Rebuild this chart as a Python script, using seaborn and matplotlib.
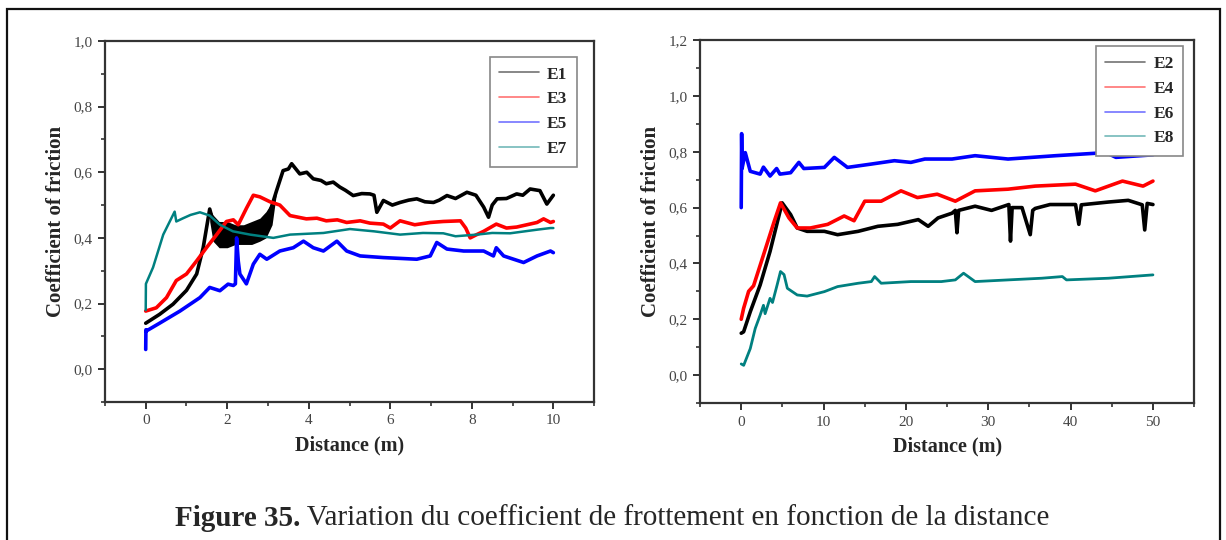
import matplotlib
matplotlib.use("Agg")
import matplotlib.pyplot as plt
from matplotlib.ticker import MultipleLocator, FuncFormatter
from matplotlib.patches import Rectangle
import seaborn as sns
import pandas as pd

# ---------------- data ----------------
# Left panel (0-10 m)
E1_x = [0, 0.34, 0.67, 1.0, 1.25, 1.41, 1.57, 1.65, 1.75, 1.85, 1.95, 2.05, 2.15, 2.25, 2.35,
        2.45, 2.55, 2.65, 2.75, 2.85, 2.95, 3.05, 3.21, 3.37, 3.5, 3.58, 3.78, 3.95, 4.11, 4.3,
        4.43, 4.6, 4.76, 4.9, 5.09, 5.3, 5.5, 5.6, 5.67, 5.83, 6.05, 6.24, 6.45, 6.65, 6.85,
        7.06, 7.2, 7.39, 7.6, 7.88, 8.1, 8.29, 8.41, 8.5, 8.62, 8.85, 9.1, 9.25, 9.43, 9.67,
        9.84, 10.0]
E1_y = [0.14, 0.167, 0.198, 0.24, 0.29, 0.37, 0.488, 0.45, 0.42, 0.41, 0.41, 0.41, 0.41, 0.41,
        0.41, 0.41, 0.41, 0.42, 0.42, 0.43, 0.44, 0.48, 0.544, 0.605, 0.61, 0.626, 0.595, 0.60,
        0.58, 0.575, 0.565, 0.57, 0.555, 0.545, 0.529, 0.535, 0.534, 0.53, 0.478, 0.514, 0.50,
        0.508, 0.515, 0.519, 0.51, 0.508, 0.515, 0.529, 0.52, 0.539, 0.53, 0.494, 0.463, 0.50,
        0.519, 0.52, 0.534, 0.53, 0.549, 0.544, 0.503, 0.53]
E1_band_x = [1.57, 1.65, 1.8, 2.0, 2.2, 2.4, 2.6, 2.8, 2.95, 3.1, 3.2]
E1_band_lo = [0.45, 0.39, 0.37, 0.37, 0.38, 0.38, 0.38, 0.39, 0.40, 0.44, 0.53]
E1_band_hi = [0.49, 0.47, 0.45, 0.45, 0.44, 0.44, 0.45, 0.46, 0.48, 0.51, 0.54]

E3_x = [0, 0.26, 0.51, 0.75, 1.0, 1.25, 1.49, 1.74, 1.98, 2.15, 2.27, 2.47, 2.64, 2.8, 3.05,
        3.29, 3.54, 3.94, 4.2, 4.43, 4.7, 4.93, 5.26, 5.5, 5.83, 6.0, 6.24, 6.6, 6.98, 7.3,
        7.72, 7.85, 7.96, 8.12, 8.29, 8.6, 8.85, 9.1, 9.35, 9.6, 9.76, 9.93, 10.0]
E3_y = [0.177, 0.187, 0.218, 0.27, 0.29, 0.33, 0.37, 0.41, 0.45, 0.455, 0.44, 0.49, 0.53,
        0.525, 0.51, 0.50, 0.468, 0.458, 0.46, 0.452, 0.455, 0.447, 0.452, 0.445, 0.442, 0.43,
        0.452, 0.44, 0.447, 0.45, 0.452, 0.43, 0.40, 0.41, 0.42, 0.442, 0.43, 0.433, 0.44,
        0.447, 0.458, 0.447, 0.45]

E5_x = [0, 0.005, 0.01, 0.34, 0.84, 1.33, 1.57, 1.82, 2.02, 2.15, 2.2, 2.23, 2.27, 2.31, 2.47,
        2.64, 2.8, 2.97, 3.29, 3.62, 3.87, 4.11, 4.36, 4.69, 4.93, 5.26, 5.83, 6.65, 6.98, 7.14,
        7.39, 7.8, 8.29, 8.53, 8.6, 8.78, 9.27, 9.6, 9.93, 10.0]
E5_y = [0.06, 0.12, 0.116, 0.14, 0.177, 0.218, 0.249, 0.239, 0.259, 0.255, 0.26, 0.40, 0.33,
        0.29, 0.26, 0.32, 0.35, 0.335, 0.36, 0.37, 0.39, 0.37, 0.36, 0.39, 0.36, 0.345, 0.34,
        0.335, 0.345, 0.386, 0.366, 0.36, 0.36, 0.345, 0.37, 0.345, 0.325, 0.345, 0.36, 0.355]

E7_x = [0, 0.005, 0.18, 0.43, 0.59, 0.71, 0.75, 0.92, 1.1, 1.33, 1.57, 1.82, 2.14, 2.56, 3.13,
        3.54, 4.36, 5.01, 5.26, 5.6, 6.24, 6.8, 7.3, 7.6, 8.12, 8.5, 8.94, 9.3, 9.6, 9.93, 10.0]
E7_y = [0.18, 0.26, 0.31, 0.41, 0.45, 0.48, 0.45, 0.46, 0.47, 0.478, 0.468, 0.44, 0.42, 0.41,
        0.40, 0.41, 0.415, 0.427, 0.424, 0.42, 0.41, 0.415, 0.414, 0.405, 0.41, 0.415, 0.414,
        0.42, 0.425, 0.43, 0.43]

# Right panel (0-50 m)
E2_x = [0, 0.29, 1.1, 2.3, 3.5, 4.97, 6.0, 6.8, 8.0, 10.1, 11.7, 14.2, 16.6, 19.0, 21.5, 22.7,
        23.9, 25.6, 26.0, 26.2, 26.4, 28.4, 30.4, 32.5, 32.7, 32.9, 34.1, 35.1, 35.4, 35.7,
        37.5, 40.6, 41.0, 41.3, 44.6, 47.0, 48.7, 49.0, 49.3, 50.0]
E2_y = [0.15, 0.155, 0.227, 0.323, 0.443, 0.617, 0.575, 0.527, 0.515, 0.515, 0.503, 0.515,
        0.533, 0.54, 0.557, 0.533, 0.563, 0.58, 0.59, 0.51, 0.59, 0.605, 0.59, 0.611, 0.48,
        0.60, 0.60, 0.503, 0.59, 0.597, 0.611, 0.611, 0.54, 0.61, 0.62, 0.626, 0.61, 0.52,
        0.615, 0.611]

E4_x = [0, 0.29, 0.9, 1.5, 2.7, 4.0, 4.77, 5.8, 6.8, 8.4, 10.5, 12.5, 13.7, 15.0, 17.0, 19.4,
        21.4, 23.8, 26.0, 28.4, 32.4, 35.7, 40.6, 43.0, 46.3, 48.8, 50.0]
E4_y = [0.20, 0.239, 0.30, 0.32, 0.43, 0.55, 0.617, 0.563, 0.527, 0.527, 0.54, 0.57, 0.553,
        0.623, 0.623, 0.66, 0.636, 0.648, 0.623, 0.66, 0.666, 0.677, 0.684, 0.66, 0.695,
        0.677, 0.695]

E6_x = [0, 0.05, 0.1, 0.49, 1.1, 2.3, 2.7, 3.5, 4.3, 4.7, 6.0, 7.0, 7.6, 10.1, 11.3, 12.9,
        15.8, 18.6, 20.6, 22.3, 25.6, 28.4, 32.4, 38.2, 44.3, 45.5, 50.0]
E6_y = [0.60, 0.865, 0.74, 0.797, 0.73, 0.72, 0.745, 0.713, 0.74, 0.72, 0.725, 0.762, 0.74,
        0.744, 0.78, 0.744, 0.756, 0.768, 0.762, 0.774, 0.774, 0.786, 0.774, 0.786, 0.797,
        0.78, 0.789]

E8_x = [0, 0.3, 1.1, 1.7, 2.3, 2.7, 2.9, 3.5, 3.8, 4.36, 4.77, 5.2, 5.6, 6.8, 8.0, 10.1, 11.7,
        14.2, 15.8, 16.2, 17.0, 20.6, 24.3, 26.0, 27.0, 28.4, 32.4, 36.5, 39.0, 39.5, 44.6, 50.0]
E8_y = [0.04, 0.035, 0.095, 0.167, 0.215, 0.25, 0.22, 0.275, 0.26, 0.323, 0.371, 0.36, 0.311,
        0.287, 0.283, 0.299, 0.317, 0.329, 0.335, 0.353, 0.329, 0.335, 0.335, 0.341, 0.365,
        0.335, 0.341, 0.347, 0.353, 0.341, 0.347, 0.359]

caption_bold = "Figure 35."
caption_text = " Variation du coefficient de frottement en fonction de la distance"
x_label = "Distance (m)"
y_label = "Coefficient of friction"

# ---------------- styling ----------------
sns.set_theme(style="ticks")
plt.rcParams['font.family'] = ['Liberation Serif', 'DejaVu Serif']

BLACK, RED, BLUE, TEAL = "#000000", "#ff0000", "#0000ff", "#008080"

fig = plt.figure(figsize=(12.26, 5.40), dpi=100)
fig.patch.set_facecolor("white")

ax1 = fig.add_axes([0.0856, 0.2556, 0.399, 0.6685])
ax2 = fig.add_axes([0.571, 0.2537, 0.403, 0.672])

def frame(ax):
    for s in ax.spines.values():
        s.set_visible(True)
        s.set_linewidth(1.6)
        s.set_color("#333333")
    ax.tick_params(axis="both", which="major", direction="out", length=5, width=1.4,
                   color="#333333", labelsize=11, labelcolor="#444444", pad=4)
    ax.tick_params(axis="both", which="minor", direction="out", length=3, width=1.2,
                   color="#333333")
    ax.tick_params(top=False, right=False)
    ax.yaxis.set_major_formatter(FuncFormatter(lambda v, p: f"{v:.1f}".replace(".", ",")))
    ax.xaxis.set_major_formatter(FuncFormatter(lambda v, p: f"{v:.0f}"))
    ax.set_xlabel(x_label, fontsize=14.5, fontweight="bold", labelpad=6)
    ax.set_ylabel(y_label, fontsize=15, fontweight="bold", labelpad=5)
    ax.set_facecolor("white")
    ax.grid(False)

def draw(ax, xs, ys, color, lw, label):
    df = pd.DataFrame({"x": xs, "y": ys})
    sns.lineplot(data=df, x="x", y="y", ax=ax, color=color, lw=lw, sort=False,
                 estimator=None, label=label)

# Left panel
ax1.fill_between(E1_band_x, E1_band_lo, E1_band_hi, color=BLACK, lw=0, zorder=2)
draw(ax1, E1_x, E1_y, BLACK, 2.6, "E1")
draw(ax1, E3_x, E3_y, RED, 2.6, "E3")
draw(ax1, E5_x, E5_y, BLUE, 2.6, "E5")
draw(ax1, E7_x, E7_y, TEAL, 1.8, "E7")
ax1.set_xlim(-1, 11)
ax1.set_ylim(-0.1, 1.0)
ax1.xaxis.set_major_locator(MultipleLocator(2))
ax1.xaxis.set_minor_locator(MultipleLocator(1))
ax1.yaxis.set_major_locator(MultipleLocator(0.2))
ax1.yaxis.set_minor_locator(MultipleLocator(0.1))
frame(ax1)

# Right panel
draw(ax2, E2_x, E2_y, BLACK, 2.6, "E2")
draw(ax2, E4_x, E4_y, RED, 2.6, "E4")
draw(ax2, E6_x, E6_y, BLUE, 2.6, "E6")
draw(ax2, E8_x, E8_y, TEAL, 2.0, "E8")
ax2.set_xlim(-5, 55)
ax2.set_ylim(-0.1, 1.2)
ax2.xaxis.set_major_locator(MultipleLocator(10))
ax2.xaxis.set_minor_locator(MultipleLocator(5))
ax2.yaxis.set_major_locator(MultipleLocator(0.2))
ax2.yaxis.set_minor_locator(MultipleLocator(0.1))
frame(ax2)

for ax, anchor in ((ax1, (0.965, 0.956)), (ax2, (0.978, 0.983))):
    leg = ax.legend(loc="upper right", bbox_to_anchor=anchor, borderaxespad=0,
                    frameon=True, fancybox=False, edgecolor="#888888", framealpha=1,
                    prop={"family": "Liberation Serif", "weight": "bold", "size": 12.5},
                    handlelength=2.3, handletextpad=0.45, labelspacing=0.5,
                    borderpad=0.55)
    leg.get_frame().set_linewidth(1.2)
    for ln in leg.get_lines():
        ln.set_linewidth(1.2)
        ln.set_alpha(0.55)

# Outer page frame
fig.add_artist(Rectangle((7 / 1226, -0.02), (1220 - 7) / 1226, 1.02 - 9 / 540,
                         transform=fig.transFigure, fill=False, lw=1.6, ec="#111111"))

# Caption
CAP_SIZE = 21
t1 = fig.text(175 / 1226, 0.040, caption_bold, ha="left", va="center", fontsize=CAP_SIZE,
              fontweight="bold", family="Liberation Serif")
fig.canvas.draw()
bb = t1.get_window_extent()
fig.text(bb.x1 / fig.bbox.width, 0.040, caption_text, ha="left", va="center",
         fontsize=CAP_SIZE, family="Liberation Serif")

fig.savefig("out.png", dpi=100)
